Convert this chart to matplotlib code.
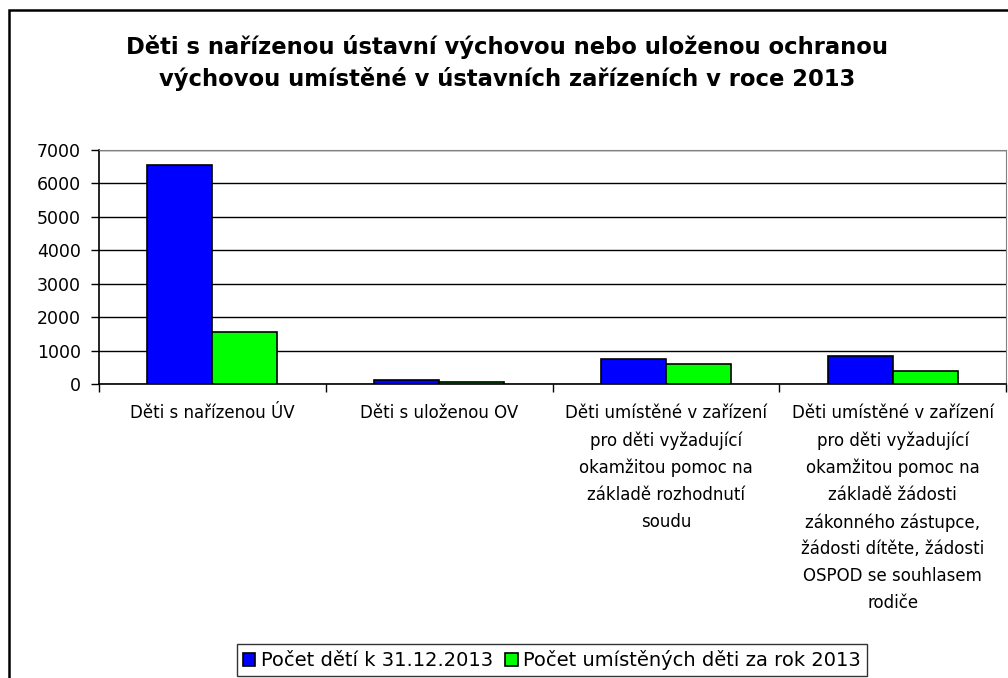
import numpy as np
import matplotlib
matplotlib.use("Agg")
import matplotlib.pyplot as plt
from matplotlib.patches import Rectangle

plt.rcParams["font.family"] = ["DejaVu Sans"]

categories = [
    "Děti s nařízenou ÚV",
    "Děti s uloženou OV",
    "Děti umístěné v zařízení\npro děti vyžadující\nokamžitou pomoc na\nzákladě rozhodnutí\nsoudu",
    "Děti umístěné v zařízení\npro děti vyžadující\nokamžitou pomoc na\nzákladě žádosti\nzákonného zástupce,\nžádosti dítěte, žádosti\nOSPOD se souhlasem\nrodiče",
]
pocet_k_datu = [6540, 110, 750, 850]
pocet_za_rok = [1550, 50, 590, 380]
series_names = ["Počet dětí k 31.12.2013", "Počet umístěných děti za rok 2013"]
title = "Děti s nařízenou ústavní výchovou nebo uloženou ochranou\nvýchovou umístěné v ústavních zařízeních v roce 2013"

fig = plt.figure(figsize=(10.08, 6.78), dpi=100)
ax = fig.add_axes([99 / 1008, 1 - 384 / 678, (1006 - 99) / 1008, (384 - 150) / 678])

# outer chart border (right/bottom run off the picture)
fig.patches.append(Rectangle((9 / 1008, -0.1), 1.2, 1 - 10 / 678 + 0.1,
                             transform=fig.transFigure, fill=False,
                             edgecolor="black", linewidth=1.8))

x = np.arange(len(categories))
w = 0.287
ax.bar(x - w / 2, pocet_k_datu, w, color="#0000ff", edgecolor="black", linewidth=1.2,
       label=series_names[0], zorder=3)
ax.bar(x + w / 2, pocet_za_rok, w, color="#00ff00", edgecolor="black", linewidth=1.2,
       label=series_names[1], zorder=3)

ax.set_xlim(-0.5, len(categories) - 0.5)
ax.set_ylim(0, 7000)
ax.set_yticks(range(0, 7001, 1000))
ax.yaxis.grid(True, color="black", linewidth=1.0, zorder=0)
ax.tick_params(axis="y", labelsize=12.5, length=6, width=1, direction="out", pad=7)

ax.set_xticks(np.arange(-0.5, len(categories), 1.0))
ax.set_xticklabels([])
ax.tick_params(axis="x", length=6, width=1, direction="out")
for i, c in enumerate(categories):
    ax.text(i, -0.085, c, transform=ax.get_xaxis_transform(), ha="center", va="top",
            fontsize=12, linespacing=1.63)

ax.spines["left"].set_linewidth(1.2)
ax.spines["bottom"].set_linewidth(1.2)
ax.spines["top"].set_color("#808080")
ax.spines["right"].set_color("#808080")

fig.text(507 / 1008, 1 - 63 / 678, title, ha="center", va="center",
         fontsize=16.3, fontweight="bold", linespacing=1.45)

leg = fig.legend(loc="center", bbox_to_anchor=(552 / 1008, 1 - 660 / 678), ncol=2,
                 fontsize=14, frameon=True, fancybox=False, edgecolor="black",
                 handlelength=0.65, handleheight=0.65, handletextpad=0.3,
                 columnspacing=0.6, borderpad=0.3)
leg.get_frame().set_linewidth(1.0)

fig.savefig("out.png", dpi=100)
